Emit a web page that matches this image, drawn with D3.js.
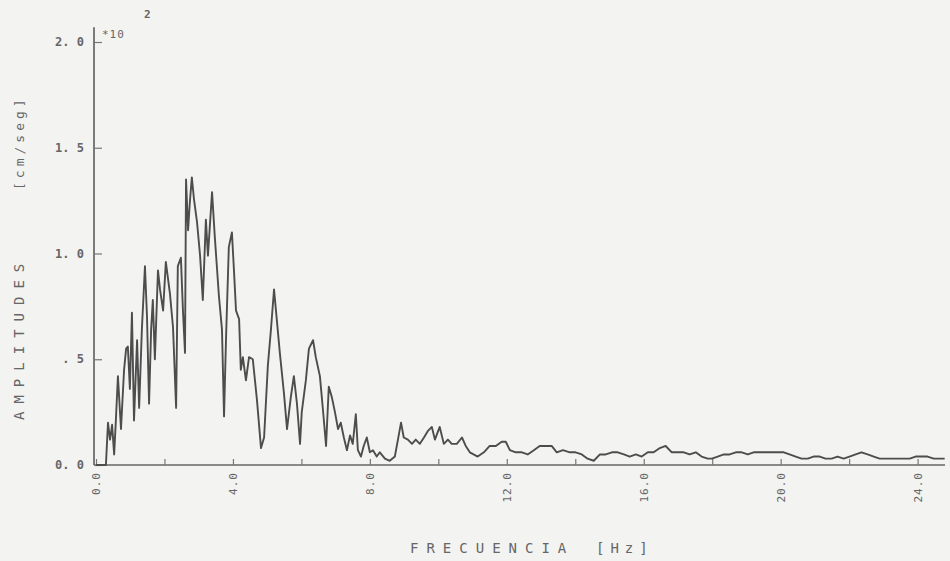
<!DOCTYPE html>
<html>
<head>
<meta charset="utf-8">
<script src="https://cdn.jsdelivr.net/npm/d3@7"></script>
<style>
	body { margin: 0; background: #f3f3f1; }
	svg { display: block; }
	text { font-family: "DejaVu Sans Mono", monospace; fill: #666; }
</style>
</head>
<body>
<svg id="chart" width="950" height="561"></svg>
<script>

// frequency (Hz) and amplitude (x10^2 cm/seg)
var freq = [0, 0.29, 0.35, 0.41, 0.47, 0.53, 0.58, 0.64, 0.73, 0.82, 0.88, 0.93, 0.99, 1.05, 1.11, 1.20, 1.26, 1.34, 1.43, 1.49,
	1.55, 1.61, 1.66, 1.72, 1.81, 1.87, 1.96, 2.04, 2.16, 2.25, 2.34, 2.39, 2.48, 2.54, 2.60, 2.63, 2.69, 2.74, 2.80, 2.86,
	2.95, 3.04, 3.12, 3.21, 3.27, 3.39, 3.47, 3.59, 3.68, 3.74, 3.80, 3.88, 3.97, 4.03, 4.09, 4.18, 4.23, 4.29, 4.38, 4.47,
	4.58, 4.70, 4.82, 4.91, 5.02, 5.11, 5.20, 5.28, 5.37, 5.49, 5.58, 5.69, 5.78, 5.87, 5.96, 6.01, 6.13, 6.22, 6.34, 6.42,
	6.54, 6.63, 6.72, 6.80, 6.89, 6.98, 7.07, 7.15, 7.24, 7.33, 7.42, 7.50, 7.59, 7.65, 7.74, 7.82, 7.91, 8.00, 8.09, 8.20,
	8.29, 8.44, 8.58, 8.73, 8.82, 8.91, 8.99, 9.11, 9.23, 9.34, 9.46, 9.58, 9.69, 9.81, 9.90, 10.04, 10.16, 10.28, 10.39, 10.54,
	10.69, 10.80, 10.92, 11.15, 11.33, 11.50, 11.68, 11.85, 11.97, 12.09, 12.26, 12.44, 12.61, 12.79, 12.96, 13.14, 13.31, 13.46, 13.64, 13.84,
	14.01, 14.19, 14.36, 14.54, 14.72, 14.89, 15.07, 15.24, 15.42, 15.59, 15.77, 15.94, 16.12, 16.29, 16.47, 16.64, 16.82, 16.99, 17.17, 17.34,
	17.52, 17.69, 17.87, 17.99, 18.16, 18.34, 18.51, 18.69, 18.86, 19.04, 19.21, 19.39, 19.56, 19.74, 19.91, 20.09, 20.26, 20.44, 20.61, 20.79,
	20.96, 21.14, 21.31, 21.49, 21.66, 21.84, 22.01, 22.19, 22.36, 22.54, 22.72, 22.89, 23.07, 23.24, 23.42, 23.59, 23.77, 23.94, 24.12, 24.29,
	24.47, 24.64, 24.79];
var amp = [0, 0, 0.20, 0.12, 0.19, 0.05, 0.21, 0.42, 0.17, 0.45, 0.55, 0.56, 0.36, 0.72, 0.21, 0.59, 0.27, 0.64, 0.94, 0.70,
	0.29, 0.64, 0.78, 0.50, 0.92, 0.83, 0.73, 0.96, 0.81, 0.65, 0.27, 0.94, 0.98, 0.73, 0.53, 1.35, 1.11, 1.24, 1.36, 1.26,
	1.15, 0.99, 0.78, 1.16, 0.99, 1.29, 1.08, 0.80, 0.64, 0.23, 0.61, 1.03, 1.10, 0.92, 0.73, 0.69, 0.45, 0.51, 0.40, 0.51,
	0.50, 0.31, 0.08, 0.13, 0.47, 0.64, 0.83, 0.69, 0.53, 0.34, 0.17, 0.32, 0.42, 0.29, 0.10, 0.25, 0.40, 0.55, 0.59, 0.51,
	0.42, 0.26, 0.09, 0.37, 0.32, 0.25, 0.17, 0.20, 0.13, 0.07, 0.14, 0.10, 0.24, 0.07, 0.04, 0.09, 0.13, 0.06, 0.07, 0.04,
	0.06, 0.03, 0.02, 0.04, 0.12, 0.20, 0.13, 0.12, 0.10, 0.12, 0.10, 0.13, 0.16, 0.18, 0.12, 0.18, 0.10, 0.12, 0.10, 0.10,
	0.13, 0.09, 0.06, 0.04, 0.06, 0.09, 0.09, 0.11, 0.11, 0.07, 0.06, 0.06, 0.05, 0.07, 0.09, 0.09, 0.09, 0.06, 0.07, 0.06,
	0.06, 0.05, 0.03, 0.02, 0.05, 0.05, 0.06, 0.06, 0.05, 0.04, 0.05, 0.04, 0.06, 0.06, 0.08, 0.09, 0.06, 0.06, 0.06, 0.05,
	0.06, 0.04, 0.03, 0.03, 0.04, 0.05, 0.05, 0.06, 0.06, 0.05, 0.06, 0.06, 0.06, 0.06, 0.06, 0.06, 0.05, 0.04, 0.03, 0.03,
	0.04, 0.04, 0.03, 0.03, 0.04, 0.03, 0.04, 0.05, 0.06, 0.05, 0.04, 0.03, 0.03, 0.03, 0.03, 0.03, 0.03, 0.04, 0.04, 0.04,
	0.03, 0.03, 0.03];

var xTicks = [0, 4, 8, 12, 16, 20, 24];
var xMinorTicks = [2, 6, 10, 14, 18, 22];
var xTickLabels = ["0.0", "4.0", "8.0", "12.0", "16.0", "20.0", "24.0"];
var yTicks = [0, 0.5, 1, 1.5, 2];
var yTickLabels = ["0. 0", ". 5", "1. 0", "1. 5", "2. 0"];

var svg = d3.select("#chart");
var ink = "#4d4d4d";

// scales
var x = d3.scaleLinear().domain([0, 24.8]).range([96, 945]);
var y = d3.scaleLinear().domain([0, 2]).range([465, 42]);

// x axis, ticks pointing up into the plot
var xAxis = d3.axisBottom(x)
	.tickValues(xTicks.concat(xMinorTicks))
	.tickSizeInner(-6)
	.tickSizeOuter(0)
	.tickFormat("");
var gx = svg.append("g")
	.attr("transform", "translate(0," + y(0) + ")")
	.call(xAxis);
gx.select(".domain").attr("stroke", "#666").attr("stroke-width", 1.7)
	.attr("d", "M" + (x(0) - 2) + ",0H" + x(24.8));
gx.selectAll(".tick line").attr("stroke", "#777").attr("stroke-width", 1.2);

// rotated x tick labels
svg.selectAll(".xlab").data(xTicks)
	.enter()
	.append("text")
	.attr("class", "xlab")
	.attr("transform", function(d){
		return "translate(" + (x(d) + 4) + "," + (y(0) + 7) + ") rotate(-90)";
	})
	.attr("text-anchor", "end")
	.style("font-size", "11px")
	.style("letter-spacing", "1px")
	.text(function(d, i){ return xTickLabels[i]; });

// y axis, ticks pointing right
var yAxis = d3.axisLeft(y)
	.tickValues(yTicks)
	.tickSizeInner(-8)
	.tickSizeOuter(0)
	.tickFormat("");
var gy = svg.append("g")
	.attr("transform", "translate(" + (x(0) - 2) + ",0)")
	.call(yAxis);
gy.select(".domain").attr("stroke", "#666").attr("stroke-width", 1.7)
	.attr("d", "M0," + y(2.07) + "V" + y(0));
gy.selectAll(".tick line").attr("stroke", "#777").attr("stroke-width", 1.2);

svg.selectAll(".ylab").data(yTicks)
	.enter()
	.append("text")
	.attr("class", "ylab")
	.attr("x", 84)
	.attr("y", function(d){ return y(d) + 4; })
	.attr("text-anchor", "end")
	.style("font-size", "12px")
	.style("font-weight", "bold")
	.text(function(d, i){ return yTickLabels[i]; });

// exponent
svg.append("text")
	.attr("x", 102).attr("y", 38)
	.style("font-size", "11px")
	.style("letter-spacing", "1px")
	.text("*10");
svg.append("text")
	.attr("x", 144).attr("y", 18)
	.style("font-size", "11px")
	.style("font-weight", "bold")
	.text("2");

// axis titles
svg.append("text")
	.attr("transform", "translate(24,420) rotate(-90)")
	.attr("text-anchor", "start")
	.style("font-size", "14px")
	.style("letter-spacing", "8px")
	.text("AMPLITUDES");
svg.append("text")
	.attr("transform", "translate(24,190) rotate(-90)")
	.attr("text-anchor", "start")
	.style("font-size", "13px")
	.style("letter-spacing", "4px")
	.text("[cm/seg]");

svg.append("text")
	.attr("x", 410).attr("y", 553)
	.style("font-size", "14px")
	.style("letter-spacing", "8px")
	.text("FRECUENCIA");
svg.append("text")
	.attr("x", 596).attr("y", 553)
	.style("font-size", "14px")
	.style("letter-spacing", "6px")
	.text("[Hz]");

// spectrum line
var line = d3.line()
	.x(function(d, i){ return x(freq[i]); })
	.y(function(d){ return y(d); });

svg.append("path")
	.datum(amp)
	.attr("d", line)
	.attr("fill", "none")
	.attr("stroke", ink)
	.attr("stroke-width", 1.9)
	.attr("stroke-linejoin", "round");

</script>
</body>
</html>
